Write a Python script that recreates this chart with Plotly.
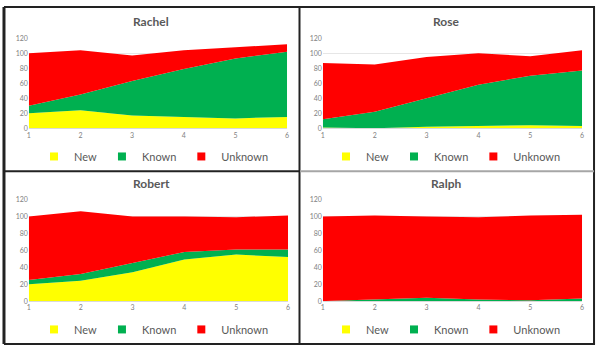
import plotly.graph_objects as go

x_vals = [1, 2, 3, 4, 5, 6]
series_names = ["New", "Known", "Unknown"]
colors = {"New": "#FFFF00", "Known": "#00B050", "Unknown": "#FF0000"}

rachel_new = [20, 24, 17, 15, 13, 15]
rachel_known = [10, 21, 46, 64, 80, 87]
rachel_unknown = [70, 59, 34, 25, 15, 10]

rose_new = [1, 0, 2, 3, 4, 3]
rose_known = [11, 22, 38, 55, 66, 74]
rose_unknown = [75, 63, 55, 42, 26, 27]

robert_new = [20, 24, 34, 49, 55, 52]
robert_known = [5, 8, 11, 9, 6, 9]
robert_unknown = [75, 74, 55, 42, 38, 40]

ralph_new = [0, 0, 0, 0, 0, 0]
ralph_known = [0, 2, 4, 2, 1, 3]
ralph_unknown = [100, 99, 96, 97, 100, 99]

panels = [
    ("Rachel", [rachel_new, rachel_known, rachel_unknown]),
    ("Rose", [rose_new, rose_known, rose_unknown]),
    ("Robert", [robert_new, robert_known, robert_unknown]),
    ("Ralph", [ralph_new, ralph_known, ralph_unknown]),
]

W, H = 600, 351

def px_x(p):
    return p / W

def px_y(p):
    return 1 - p / H

# plot-area pixel boxes (left, right, top, bottom), title center, legend center
boxes = [
    (27, 287, 34, 126, 150, 17, 153, 155),
    (323, 584, 34, 126, 447, 17, 447, 155),
    (27, 288, 199, 303, 150, 183, 153, 332),
    (323, 584, 199, 303, 447, 183, 447, 332),
]

fig = go.Figure()
layout = dict(
    width=W, height=H, margin=dict(l=0, r=0, t=0, b=0),
    paper_bgcolor="white", plot_bgcolor="white",
    font=dict(family="Lato, Open Sans, sans-serif", color="#595959"),
    annotations=[], shapes=[],
)

for i, ((name, vals), box) in enumerate(zip(panels, boxes)):
    l, r, t, b, tx, ty, lx, ly = box
    xa = "x" if i == 0 else f"x{i+1}"
    ya = "y" if i == 0 else f"y{i+1}"
    lg = "legend" if i == 0 else f"legend{i+1}"
    for sname, v in zip(series_names, vals):
        fig.add_trace(go.Scatter(
            x=x_vals, y=v, name=sname, mode="lines",
            stackgroup=f"g{i}", line=dict(width=0, color=colors[sname]),
            fillcolor=colors[sname], xaxis=xa, yaxis=ya, showlegend=False,
            hoverinfo="x+y+name",
        ))
    for sname in series_names:
        fig.add_trace(go.Scatter(
            x=[None], y=[None], name=sname, mode="markers",
            marker=dict(symbol="square", size=8, color=colors[sname]),
            xaxis=xa, yaxis=ya, legend=lg, showlegend=True,
        ))
    xkey = "xaxis" if i == 0 else f"xaxis{i+1}"
    ykey = "yaxis" if i == 0 else f"yaxis{i+1}"
    layout[xkey] = dict(
        domain=[px_x(l), px_x(r)], range=[1, 6], tickvals=x_vals,
        showgrid=False, zeroline=False, showline=True, linecolor="#d9d9d9",
        tickfont=dict(size=7, color="#7f7f7f"), anchor=ya, fixedrange=True,
    )
    layout[ykey] = dict(
        domain=[px_y(b), px_y(t)], range=[0, 120], dtick=20,
        showgrid=True, gridcolor="#e6e6e6", zeroline=False, showline=False,
        tickfont=dict(size=7, color="#7f7f7f"), anchor=xa, fixedrange=True,
    )
    layout[lg] = dict(
        orientation="h", x=px_x(lx), y=px_y(ly), xanchor="center", yanchor="middle",
        font=dict(size=11, color="#595959"), bgcolor="rgba(0,0,0,0)",
        itemwidth=30, tracegroupgap=0, traceorder="normal",
    )
    layout["annotations"].append(dict(
        text=f"<b>{name}</b>", x=px_x(tx), y=px_y(ty), xref="paper", yref="paper",
        showarrow=False, font=dict(size=12, color="#595959"),
        xanchor="center", yanchor="middle",
    ))

def line(x0, y0, x1, y1, color="#222222", w=2):
    return dict(type="line", xref="paper", yref="paper",
                x0=px_x(x0), y0=px_y(y0), x1=px_x(x1), y1=px_y(y1),
                line=dict(color=color, width=w))

layout["shapes"] += [
    line(2, 2, 597, 2),
    line(2, 2, 2, 347, w=3),
    line(596, 2, 596, 347),
    line(2, 347, 597, 347),
    line(299.5, 2, 299.5, 347),
    line(2, 170, 299, 170),
    line(300, 170, 596, 170, color="#a6a6a6"),
]

fig.update_layout(**layout)
fig.write_html("out.html")
